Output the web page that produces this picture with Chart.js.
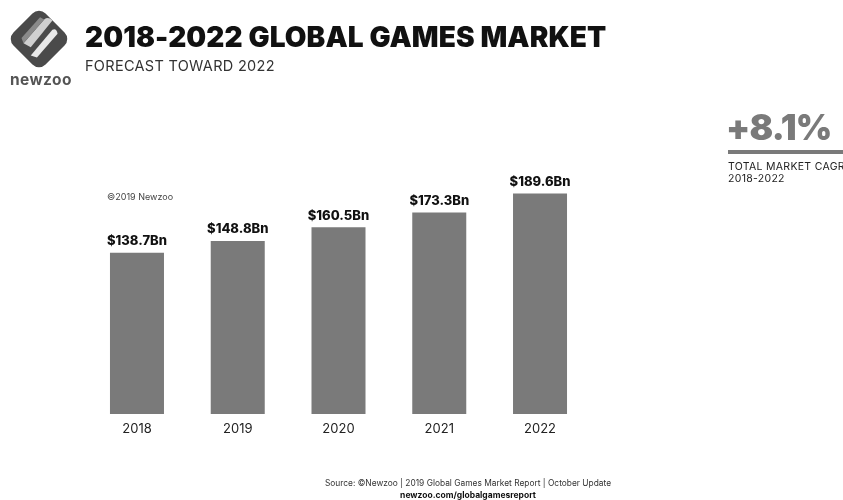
<!DOCTYPE html>
<html><head><meta charset="utf-8">
<script src="https://cdn.jsdelivr.net/npm/chart.js@4"></script>
<style>
html,body{margin:0;padding:0;background:#fff;}
#wrap{position:relative;width:843px;height:500px;overflow:hidden;font-family:"Inter","Noto Sans",sans-serif;}
#c{position:absolute;left:0;top:0;}
.t{position:absolute;white-space:nowrap;}
</style></head>
<body>
<div id="wrap">
<canvas id="c" width="843" height="500"></canvas>
<svg class="t" style="left:6px;top:6px" width="66" height="66" viewBox="0 0 64 64">
  <rect x="10" y="10" width="44" height="44" rx="9" transform="rotate(45 32 32)" fill="#4a4a4a"/>
  <path d="M17 36 L37 13 Q41 10 45 14 L24 40 Z" fill="#d0d0d0"/>
  <path d="M24 48 L45 23 Q49 21 50 27 L30 50 Z" fill="#e8e8e8"/>
  <path d="M15 31 L33 11 L37 13 L17 36 Z" fill="#8a8a8a"/>
</svg>
<div class="t" style="left:10px;top:70px;font-family:'Inter',sans-serif;font-weight:700;font-size:15.5px;color:#555;letter-spacing:0.4px">newzoo</div>
<div class="t" style="left:85px;top:20px;font-family:'Inter',sans-serif;font-weight:900;font-size:28px;color:#111;letter-spacing:0.1px">2018-2022 GLOBAL GAMES MARKET</div>
<div class="t" style="left:85px;top:57px;font-family:'Inter',sans-serif;font-weight:400;font-size:14.5px;color:#333;letter-spacing:0.3px">FORECAST TOWARD 2022</div>
<div class="t" style="left:726px;top:106px;font-family:'Inter',sans-serif;font-weight:900;font-size:35px;color:#7a7a7a;letter-spacing:-0.8px">+8.1%</div>
<div class="t" style="left:728px;top:150px;width:120px;height:4px;background:#7a7a7a"></div>
<div class="t" style="left:728px;top:161px;font-family:'Inter',sans-serif;font-size:10.5px;color:#222;line-height:12px;letter-spacing:0.3px">TOTAL MARKET CAGR<br>2018-2022</div>
<div class="t" style="left:107px;top:191px;font-family:'Inter',sans-serif;font-size:9px;color:#444">©2019 Newzoo</div>
<div class="t" style="left:0;width:936px;text-align:center;top:478px;font-family:'Inter',sans-serif;font-size:8.4px;color:#333">Source: ©Newzoo | 2019 Global Games Market Report | October Update</div>
<div class="t" style="left:0;width:936px;text-align:center;top:490px;font-family:'Inter',sans-serif;font-weight:700;font-size:8.5px;color:#111">newzoo.com/globalgamesreport</div>
</div>
<script>
const years = ["2018","2019","2020","2021","2022"];
const revenueBn = [138.7,148.8,160.5,173.3,189.6];
const valueLabels = revenueBn.map(v => "$" + v.toFixed(1) + "Bn");

const topLabels = {
  id: "topLabels",
  afterDatasetsDraw(chart) {
    const ctx = chart.ctx;
    const meta = chart.getDatasetMeta(0);
    ctx.save();
    ctx.font = "800 13px Inter, sans-serif";
    ctx.fillStyle = "#111";
    ctx.textAlign = "center";
    ctx.textBaseline = "bottom";
    meta.data.forEach((bar, i) => {
      ctx.fillText(valueLabels[i], bar.x, bar.y - 5);
    });
    ctx.restore();
  }
};

new Chart(document.getElementById("c"), {
  type: "bar",
  data: {
    labels: years,
    datasets: [{
      data: revenueBn,
      backgroundColor: "#7a7a7a",
      borderWidth: 0,
      barPercentage: 0.67,
      categoryPercentage: 0.8
    }]
  },
  options: {
    responsive: false,
    animation: false,
    devicePixelRatio: 1,
    layout: { padding: { left: 86.6, right: 252.6, top: 181.4, bottom: 56 } },
    plugins: { legend: { display: false }, tooltip: { enabled: false } },
    scales: {
      y: { display: false, min: 0, max: 200 },
      x: {
        grid: { display: false },
        border: { display: false },
        ticks: { color: "#222", font: { family: "Inter, sans-serif", size: 13 }, padding: -1 },
        afterFit(scale) { scale.height = 30; }
      }
    }
  },
  plugins: [topLabels]
});
</script>
</body></html>
